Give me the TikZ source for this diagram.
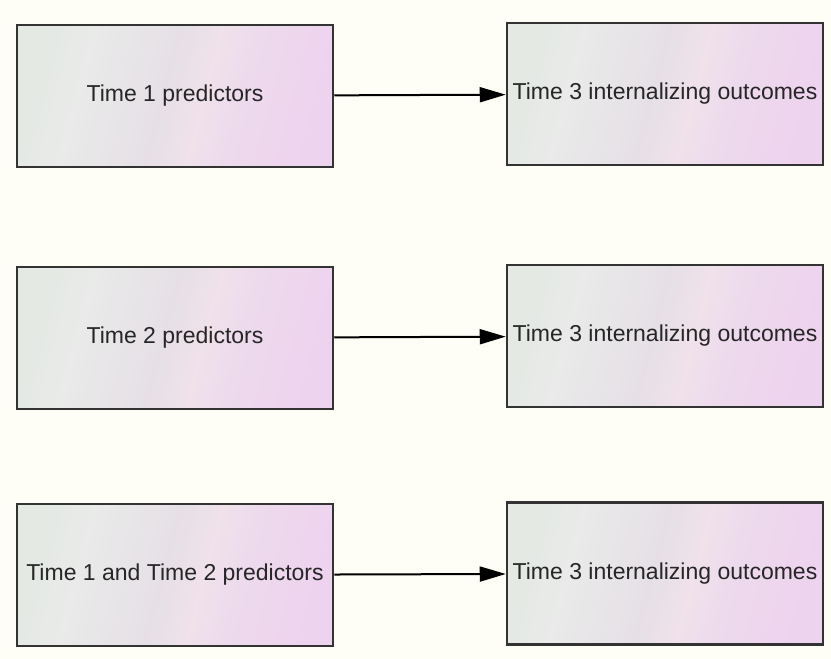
\documentclass[tikz,border=0pt]{standalone}
\usepackage{fontspec}
\setmainfont{Liberation Sans}
\usetikzlibrary{arrows.meta}
\definecolor{pagebg}{HTML}{FEFEF6}
\definecolor{boxline}{HTML}{333333}
\definecolor{fillA}{HTML}{E4E9E4}
\definecolor{fillB}{HTML}{E9EAE9}
\definecolor{fillC}{HTML}{E6E0E6}
\definecolor{fillD}{HTML}{F0E1EA}
\definecolor{fillE}{HTML}{EDDAED}
\definecolor{fillF}{HTML}{EED3EE}
\pgfdeclarehorizontalshading{boxfill}{100bp}{color(0bp)=(fillA); color(25bp)=(fillA); color(33bp)=(fillB); color(48bp)=(fillC); color(55bp)=(fillD); color(62bp)=(fillE); color(75bp)=(fillF); color(100bp)=(fillF)}
\tikzset{font=\fontsize{23}{27}\selectfont}

\begin{document}
\begin{tikzpicture}[x=1pt, y=-1pt]
	\fill[pagebg] (0, 0) rectangle (831, 659);
	\useasboundingbox (0, 0) rectangle (831, 659);
	\begin{scope}
		\tikzstyle{every node}=[draw=boxline, line width=2.5pt, shading=boxfill, shading angle=-15,
			minimum width=316pt, minimum height=142pt, align=center, inner sep=1pt, text=black!85]
		\node (t1) at (175, 96) {Time 1 predictors};
		\node (t2) at (175, 338) {Time 2 predictors};
		\node (t12) at (175, 575) {Time 1 and Time 2 predictors};
		\node (o1) at (665, 94) {Time 3 internalizing outcomes};
		\node (o2) at (665, 336) {Time 3 internalizing outcomes};
		\node (o3) at (665, 573.5) {Time 3 internalizing outcomes};
	\end{scope}

	\draw[-{Triangle[length=26pt, width=15pt]}, line width=2pt](t1) -- (o1);
	\draw[-{Triangle[length=26pt, width=15pt]}, line width=2pt](t2) -- (o2);
	\draw[-{Triangle[length=26pt, width=15pt]}, line width=2pt](t12) -- (o3);
\end{tikzpicture}
\end{document}
